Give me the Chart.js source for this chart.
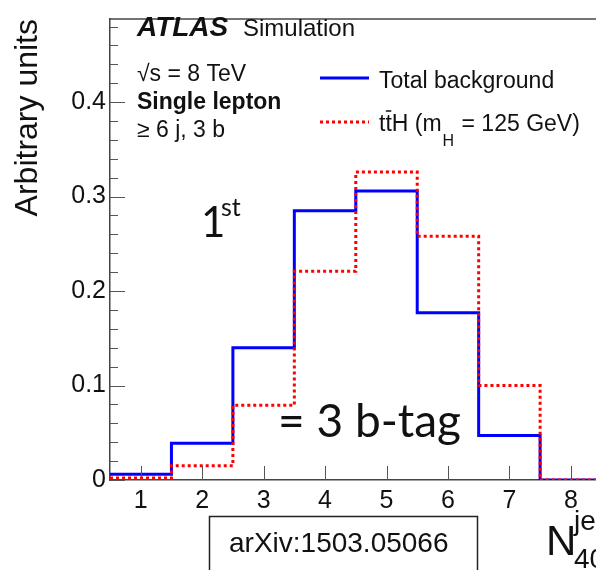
<!DOCTYPE html>
<html><head><meta charset="utf-8">
<script src="https://cdn.jsdelivr.net/npm/chart.js@4/dist/chart.umd.min.js"></script>
<style>
html,body{margin:0;padding:0;background:#fff;overflow:hidden;width:596px;height:570px;}
#wrap{position:relative;width:663px;height:570px;}
</style></head><body>
<div id="wrap"><canvas id="c"></canvas></div>
<script>
// N_40^jet bins (bin centres)
const binCenters = [1, 2, 3, 4, 5, 6, 7, 8, 9];
const totalBackground = [0.006, 0.039, 0.140, 0.285, 0.306, 0.177, 0.047, 0, 0];
const ttH = [0.002, 0.015, 0.079, 0.221, 0.326, 0.258, 0.100, 0, 0];
const xTickLabels = ['1', '2', '3', '4', '5', '6', '7', '8', '9'];
const yTickValues = [0, 0.1, 0.2, 0.3, 0.4];
const yTickLabels = ['0', '0.1', '0.2', '0.3', '0.4'];

function histPoints(centers, vals) {
  const pts = centers.map((c, i) => ({x: c - 0.5, y: vals[i]}));
  pts.push({x: centers[centers.length - 1] + 0.5, y: vals[vals.length - 1]});
  return pts;
}

const SANS = '"Liberation Sans", Arial, sans-serif';
const ALT = 'Lato, "Open Sans", sans-serif';

const decor = {
  id: 'decor',
  afterDraw(chart) {
    const ctx = chart.ctx;
    const xs = chart.scales.x, ys = chart.scales.y;
    const a = chart.chartArea;
    ctx.save();
    // frame top
    ctx.strokeStyle = '#444'; ctx.lineWidth = 1.5;
    ctx.beginPath(); ctx.moveTo(a.left, a.top); ctx.lineTo(a.right, a.top); ctx.stroke();
    // inward ticks
    ctx.lineWidth = 1; ctx.strokeStyle = '#555';
    for (let k = 0; k <= 24; k++) {
      const v = k * 0.02;
      const y = Math.round(ys.getPixelForValue(v)) + 0.5;
      const len = (k % 5 === 0) ? 15 : 8;
      ctx.beginPath(); ctx.moveTo(a.left, y); ctx.lineTo(a.left + len, y); ctx.stroke();
    }
    binCenters.forEach(c => {
      const x = Math.round(xs.getPixelForValue(c)) + 0.5;
      ctx.beginPath(); ctx.moveTo(x, a.bottom); ctx.lineTo(x, a.bottom - 14); ctx.stroke();
    });
    ctx.restore();

    ctx.save();
    ctx.fillStyle = '#111';
    ctx.textBaseline = 'alphabetic';
    ctx.textAlign = 'left';
    ctx.font = 'italic bold 28px ' + SANS;
    ctx.fillText('ATLAS', 137, 36);
    ctx.font = '24px ' + SANS;
    ctx.fillText('Simulation', 243, 36);
    ctx.font = '23px ' + SANS;
    ctx.fillText('\u221As = 8 TeV', 137, 81);
    ctx.font = 'bold 23px ' + SANS;
    ctx.fillText('Single lepton', 137, 109);
    ctx.font = '23px ' + SANS;
    ctx.fillText('\u2265 6 j, 3 b', 137, 137);

    // legend
    ctx.lineWidth = 3;
    ctx.strokeStyle = '#0000ff';
    ctx.beginPath(); ctx.moveTo(320, 78); ctx.lineTo(369, 78); ctx.stroke();
    ctx.strokeStyle = '#ff0000'; ctx.setLineDash([3, 3]);
    ctx.beginPath(); ctx.moveTo(320, 122); ctx.lineTo(369, 122); ctx.stroke();
    ctx.setLineDash([]);
    ctx.font = '23px ' + SANS;
    ctx.fillText('Total background', 379, 88);
    let x = 379;
    ctx.fillText('t', x, 131); x += ctx.measureText('t').width;
    const tw = ctx.measureText('t').width;
    ctx.fillText('t', x, 131);
    ctx.lineWidth = 1.5; ctx.strokeStyle = '#111';
    ctx.beginPath(); ctx.moveTo(x + 0.5, 111); ctx.lineTo(x + tw - 0.5, 111); ctx.stroke();
    x += tw;
    ctx.fillText('H (m', x, 131); x += ctx.measureText('H (m').width;
    ctx.font = '16px ' + SANS;
    ctx.fillText('H', x + 1, 146); x += ctx.measureText('H').width + 2;
    ctx.font = '23px ' + SANS;
    ctx.fillText(' = 125 GeV)', x, 131);

    // big annotations
    ctx.font = '42px ' + ALT;
    ctx.fillText('1', 201, 237);
    ctx.font = '25px ' + ALT;
    ctx.fillText('st', 221, 216);
    ctx.font = '46px ' + ALT;
    ctx.fillText('= 3 b-tag', 278, 437);

    // arXiv box
    ctx.lineWidth = 1.5; ctx.strokeStyle = '#222';
    ctx.strokeRect(209.5, 516.5, 268, 70);
    ctx.font = '28px ' + SANS;
    ctx.fillText('arXiv:1503.05066', 229, 552);

    // x-axis title
    ctx.font = '42px ' + SANS;
    ctx.fillText('N', 546, 555);
    ctx.font = '28px ' + SANS;
    ctx.fillText('jet', 574, 530);
    ctx.fillText('40', 574, 568);
    ctx.restore();
  }
};

new Chart(document.getElementById('c'), {
  type: 'line',
  data: {
    datasets: [
      {
        label: 'ttH (mH = 125 GeV)',
        data: histPoints(binCenters, ttH),
        stepped: 'before',
        borderColor: '#ff0000',
        borderWidth: 3,
        borderDash: [3, 3],
        pointRadius: 0,
        fill: false,
        order: 0
      },
      {
        label: 'Total background',
        data: histPoints(binCenters, totalBackground),
        stepped: 'before',
        borderColor: '#0000ff',
        borderWidth: 3,
        pointRadius: 0,
        fill: false,
        order: 1
      }
    ]
  },
  options: {
    responsive: true,
    maintainAspectRatio: false,
    animation: false,
    events: [],
    layout: {padding: {top: 8, left: 0, right: 0, bottom: 0}},
    plugins: {legend: {display: false}, tooltip: {enabled: false}},
    scales: {
      x: {
        type: 'linear', min: 0.5, max: 9.5,
        grid: {display: true, drawOnChartArea: false, drawTicks: false},
        border: {display: true, color: '#444', width: 1.5},
        ticks: {
          padding: 6, color: '#111', maxRotation: 0, autoSkip: false,
          font: {family: SANS, size: 25},
          callback: (v) => { const i = binCenters.indexOf(v); return i >= 0 ? xTickLabels[i] : ''; }
        },
        afterBuildTicks: (s) => { s.ticks = binCenters.map(v => ({value: v})); },
        afterFit: (s) => { s.height = 90; }
      },
      y: {
        type: 'linear', min: 0, max: 0.488,
        grid: {display: true, drawOnChartArea: false, drawTicks: false},
        border: {display: true, color: '#444', width: 1.5},
        ticks: {
          padding: 4, color: '#111',
          font: {family: SANS, size: 25},
          callback: (v) => { const i = yTickValues.findIndex(t => Math.abs(t - v) < 1e-6); return i >= 0 ? yTickLabels[i] : ''; }
        },
        afterBuildTicks: (s) => { s.ticks = yTickValues.map(v => ({value: v})); },
        title: {display: true, text: 'Arbitrary units', align: 'end', color: '#111',
                font: {family: SANS, size: 32}, padding: {top: 9, bottom: 0}},
        afterFit: (s) => { s.width = 110; }
      }
    }
  },
  plugins: [decor]
});
</script>
</body></html>
